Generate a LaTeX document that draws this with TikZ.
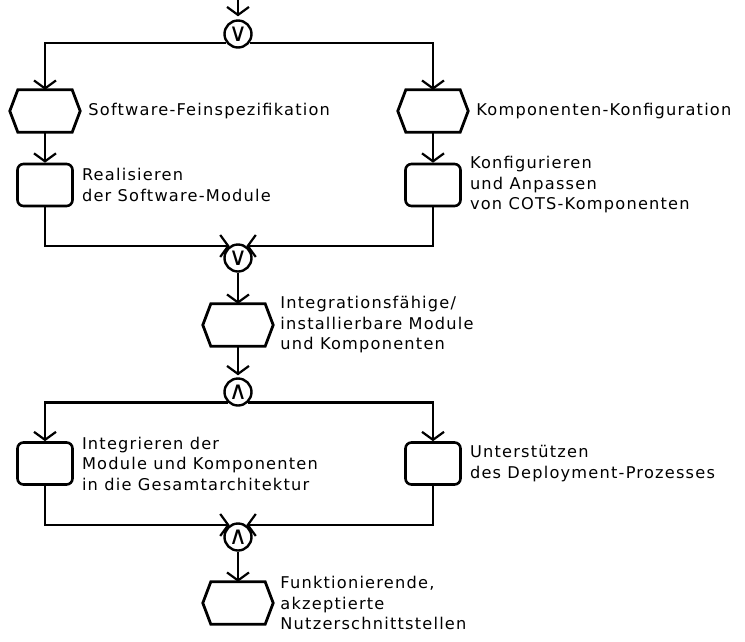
\documentclass[tikz,border=0pt]{standalone}
\usepackage{fontspec}
\setmainfont{DejaVu Sans}[LetterSpace=7.5]
\newfontfamily\opsymfont{DejaVu Sans}
\usetikzlibrary{arrows.meta,positioning}
\tikzset{
  ln/.style={line width=2.2pt},
  arr/.style={ln,-{Straight Barb[length=8pt,width=22pt,line width=2.2pt]}},
  hexnode/.style={minimum width=70pt,minimum height=42pt,inner sep=0pt,draw=none},
  hexline/.style={line width=2.8pt,line join=miter},
  actbox/.style={draw,line width=2.6pt,rounded corners=6pt,minimum width=55pt,minimum height=42pt,inner sep=0pt},
  opcirc/.style={draw,circle,line width=2.4pt,minimum size=27pt,inner sep=0pt},
  opsym/.style={inner sep=0pt,font=\opsymfont\fontsize{25}{25}\selectfont},
  lbl/.style={inner sep=0pt,align=left,font=\fontsize{16.2}{20.5}\selectfont},
}
\newcommand\drawhex[1]{\draw[hexline] (#1.west) -- ([xshift=8pt]#1.north west) -- ([xshift=-8pt]#1.north east) -- (#1.east) -- ([xshift=-8pt]#1.south east) -- ([xshift=8pt]#1.south west) -- cycle;}
\begin{document}
\begin{tikzpicture}[x=1pt,y=-1pt]
\useasboundingbox (0,0) rectangle (745,641);
\coordinate (top) at (238,0);
\node[opcirc,label={[opsym]center:∨}] (s1) at (238,34) {};
\node[hexnode] (h1) at (45,111) {};
\node[hexnode] (h2) at (433,111) {};
\drawhex{h1}
\drawhex{h2}
\node[actbox] (r1) at (45,185) {};
\node[actbox] (r2) at (433,185) {};
\node[opcirc,label={[opsym]center:∨}] (j1) at (238,258) {};
\node[hexnode] (mh) at (238,325) {};
\drawhex{mh}
\node[opcirc,label={[opsym]center:∧}] (s2) at (238,392) {};
\node[actbox] (r3) at (45,463.5) {};
\node[actbox] (r4) at (433,463.5) {};
\node[opcirc,label={[opsym]center:∧}] (j2) at (238,537) {};
\node[hexnode] (bh) at (238,603) {};
\drawhex{bh}

\node[lbl,right=8pt of h1] (t1) {Software-Feinspezifikation};
\node[lbl,right=8pt of h2] (t2) {Komponenten-Konfiguration};
\node[lbl,right=8pt of r1] (t3) {Realisieren\\der Software-Module};
\node[lbl,right=8pt of r2] (t4) {Konfigurieren\\und Anpassen\\von COTS-Komponenten};
\node[lbl,right=7pt of mh] (t5) {Integrationsfähige/\\installierbare Module\\und Komponenten};
\node[lbl,right=8pt of r3] (t6) {Integrieren der\\Module und Komponenten\\in die Gesamtarchitektur};
\node[lbl,right=8pt of r4] (t7) {Unterstützen\\des Deployment-Prozesses};
\node[lbl,right=7pt of bh] (t8) {Funktionierende,\\akzeptierte\\Nutzerschnittstellen};

\draw[arr,shorten >=3pt] (top) -- (s1.north);
\draw[arr] (s1.218) -| (h1.north);
\draw[arr] (s1.-38) -| (h2.north);
\draw[arr] (h1.south) -- (r1.north);
\draw[arr] (h2.south) -- (r2.north);
\draw[arr] (r1.south) |- (j1.125);
\draw[arr] (r2.south) |- (j1.55);
\draw[arr] (j1.south) -- (mh.north);
\draw[arr,shorten >=2pt] (mh.south) -- (s2.north);
\draw[arr] (s2.226) -| (r3.north);
\draw[arr] (s2.-46) -| (r4.north);
\draw[arr] (r3.south) |- (j2.125);
\draw[arr] (r4.south) |- (j2.55);
\draw[arr] (j2.south) -- (bh.north);
\end{tikzpicture}
\end{document}
